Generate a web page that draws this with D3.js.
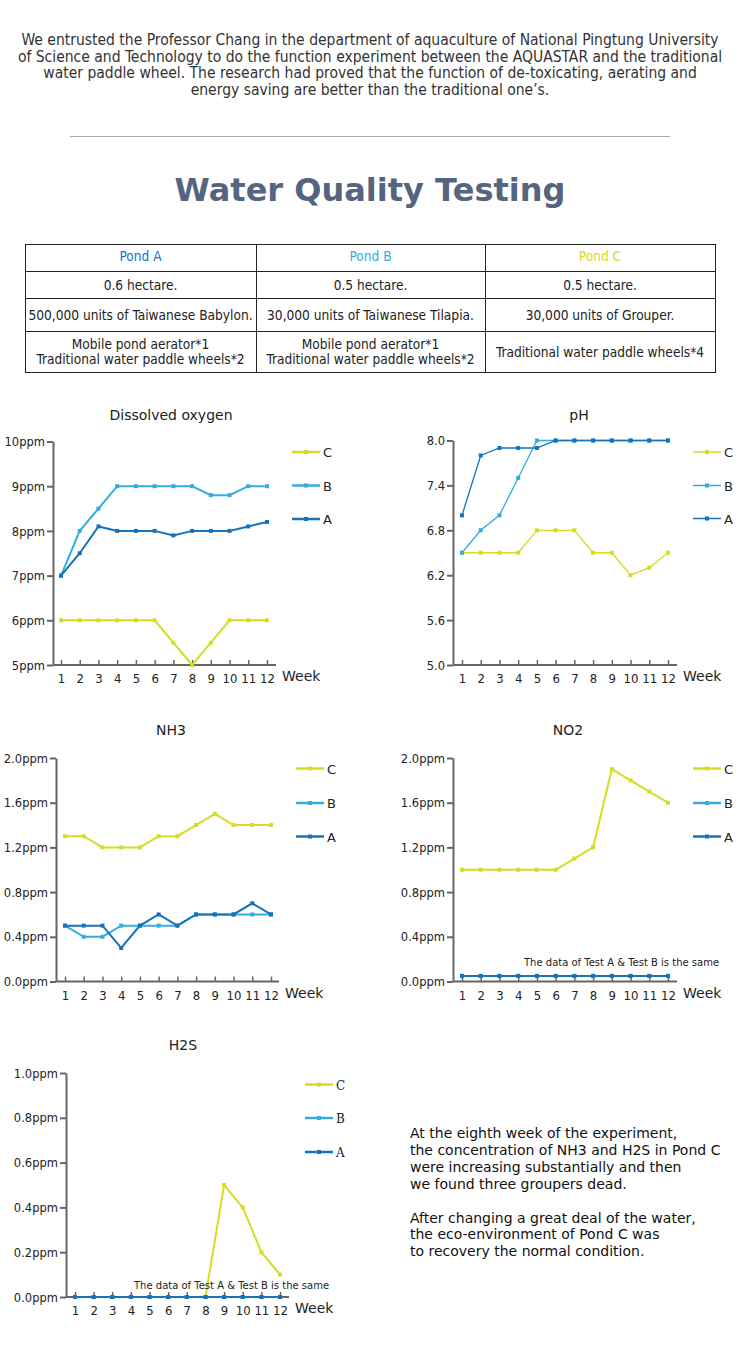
<!DOCTYPE html>
<html>
<head>
<meta charset="utf-8">
<script src="https://cdn.jsdelivr.net/npm/d3@7"></script>
<style>
  body { margin: 0; background: #fff; }
  svg text { font-family: Verdana, "DejaVu Sans", sans-serif; fill: #222; }
  .cond { font-family: Tahoma, "DejaVu Sans Condensed", "DejaVu Sans", sans-serif; font-stretch: condensed; }
</style>
</head>
<body>
<svg id="page" width="741" height="1352"></svg>
<script>
// ---- data ----
const weeks = [1, 2, 3, 4, 5, 6, 7, 8, 9, 10, 11, 12];
const seriesNames = ['C', 'B', 'A'];

const doC = [6, 6, 6, 6, 6, 6, 5.5, 5, 5.5, 6, 6, 6];
const doB = [7, 8, 8.5, 9, 9, 9, 9, 9, 8.8, 8.8, 9, 9];
const doA = [7, 7.5, 8.1, 8, 8, 8, 7.9, 8, 8, 8, 8.1, 8.2];
const doTicks = [5, 6, 7, 8, 9, 10];

const phC = [6.5, 6.5, 6.5, 6.5, 6.8, 6.8, 6.8, 6.5, 6.5, 6.2, 6.3, 6.5];
const phB = [6.5, 6.8, 7.0, 7.5, 8.0, 8.0, 8.0, 8.0, 8.0, 8.0, 8.0, 8.0];
const phA = [7.0, 7.8, 7.9, 7.9, 7.9, 8.0, 8.0, 8.0, 8.0, 8.0, 8.0, 8.0];
const phTicks = [5.0, 5.6, 6.2, 6.8, 7.4, 8.0];

const nh3C = [1.3, 1.3, 1.2, 1.2, 1.2, 1.3, 1.3, 1.4, 1.5, 1.4, 1.4, 1.4];
const nh3B = [0.5, 0.4, 0.4, 0.5, 0.5, 0.5, 0.5, 0.6, 0.6, 0.6, 0.6, 0.6];
const nh3A = [0.5, 0.5, 0.5, 0.3, 0.5, 0.6, 0.5, 0.6, 0.6, 0.6, 0.7, 0.6];
const nh3Ticks = [0, 0.4, 0.8, 1.2, 1.6, 2.0];

const no2C = [1.0, 1.0, 1.0, 1.0, 1.0, 1.0, 1.1, 1.2, 1.9, 1.8, 1.7, 1.6];
const no2B = [0.05, 0.05, 0.05, 0.05, 0.05, 0.05, 0.05, 0.05, 0.05, 0.05, 0.05, 0.05];
const no2A = [0.05, 0.05, 0.05, 0.05, 0.05, 0.05, 0.05, 0.05, 0.05, 0.05, 0.05, 0.05];
const no2Ticks = [0, 0.4, 0.8, 1.2, 1.6, 2.0];

const h2sC = [0, 0, 0, 0, 0, 0, 0, 0, 0.5, 0.4, 0.2, 0.1];
const h2sB = [0, 0, 0, 0, 0, 0, 0, 0, 0, 0, 0, 0];
const h2sA = [0, 0, 0, 0, 0, 0, 0, 0, 0, 0, 0, 0];
const h2sTicks = [0, 0.2, 0.4, 0.6, 0.8, 1.0];

const introLines = [
  'We entrusted the Professor Chang in the department of aquaculture of National Pingtung University',
  'of Science and Technology to do the function experiment between the AQUASTAR and the traditional',
  'water paddle wheel. The research had proved that the function of de-toxicating, aerating and',
  'energy saving are better than the traditional one\u2019s.'
];
const tableHeader = ['Pond A', 'Pond B', 'Pond C'];
const tableRows = [
  [['0.6 hectare.'], ['0.5 hectare.'], ['0.5 hectare.']],
  [['500,000 units of Taiwanese Babylon.'], ['30,000 units of Taiwanese Tilapia.'], ['30,000 units of Grouper.']],
  [['Mobile pond aerator*1', 'Traditional water paddle wheels*2'], ['Mobile pond aerator*1', 'Traditional water paddle wheels*2'], ['Traditional water paddle wheels*4']]
];
const noteLines = [
  'At the eighth week of the experiment,',
  'the concentration of NH3 and H2S in Pond C',
  'were increasing substantially and then',
  'we found three groupers dead.',
  '',
  'After changing a great deal of the water,',
  'the eco-environment of Pond C was',
  'to recovery the normal condition.'
];
const sameNote = 'The data of Test A & Test B is the same';

const colors = { A: '#1672bb', B: '#34ace2', C: '#d5dc22' };
const headerColors = ['#1672bb', '#34ace2', '#d5dc22'];

const svg = d3.select('#page');

// ---- intro text ----
svg.append('g').selectAll('text').data(introLines).enter().append('text')
  .attr('class', 'cond')
  .attr('x', 370).attr('y', (d, i) => 45 + i * 16.7)
  .attr('text-anchor', 'middle')
  .style('font-size', '15.5px').style('fill', '#333')
  .text(d => d);

svg.append('line').attr('x1', 70).attr('x2', 670).attr('y1', 136.5).attr('y2', 136.5)
  .attr('stroke', '#aaa').attr('stroke-width', 1);

svg.append('text').attr('x', 370).attr('y', 201).attr('text-anchor', 'middle')
  .style('font-size', '32px').style('font-weight', 'bold').style('fill', '#56657f')
  .text('Water Quality Testing');

// ---- table ----
const colX = [25, 256, 485, 715];
const rowY = [244, 271, 298, 331, 372];
const table = svg.append('g');
table.append('rect').attr('x', 25.5).attr('y', 244.5).attr('width', 690).attr('height', 128)
  .attr('fill', 'none').attr('stroke', '#222');
colX.slice(1, 3).forEach(x => table.append('line').attr('x1', x + 0.5).attr('x2', x + 0.5)
  .attr('y1', 244).attr('y2', 372).attr('stroke', '#222'));
rowY.slice(1, 4).forEach(y => table.append('line').attr('y1', y + 0.5).attr('y2', y + 0.5)
  .attr('x1', 25).attr('x2', 715).attr('stroke', '#222'));
tableHeader.forEach((h, i) => {
  table.append('text').attr('class', 'cond').attr('x', (colX[i] + colX[i + 1]) / 2).attr('y', 261)
    .attr('text-anchor', 'middle').style('font-size', '13.6px').style('fill', headerColors[i]).text(h);
});
tableRows.forEach((row, r) => {
  const mid = (rowY[r + 1] + rowY[r + 2]) / 2;
  row.forEach((cell, c) => {
    cell.forEach((line, k) => {
      table.append('text').attr('class', 'cond').attr('x', (colX[c] + colX[c + 1]) / 2)
        .attr('y', mid + 5 + (k - (cell.length - 1) / 2) * 15)
        .attr('text-anchor', 'middle').style('font-size', '13.6px').style('fill', '#222').text(line);
    });
  });
});

// ---- charts ----
const charts = [
  { title: 'Dissolved oxygen', tx: 171, ty: 420, data: { C: doC, B: doB, A: doA }, ticks: doTicks, fmt: d => d + 'ppm',
    ax: 53, w1: 61, w12: 267, axEnd: 276, yTop: 441.5, yBot: 665, lw: 2, lgX: 292, lgY: [452, 485.5, 519] },
  { title: 'pH', tx: 579, ty: 420, data: { C: phC, B: phB, A: phA }, ticks: phTicks, fmt: d3.format('.1f'),
    ax: 453, w1: 462, w12: 668, axEnd: 677, yTop: 440.5, yBot: 665, lw: 1.3, lgX: 693, lgY: [452, 485.5, 518.5] },
  { title: 'NH3', tx: 171, ty: 735, data: { C: nh3C, B: nh3B, A: nh3A }, ticks: nh3Ticks, fmt: d => d3.format('.1f')(d) + 'ppm',
    ax: 56, w1: 65, w12: 271, axEnd: 279, yTop: 758, yBot: 981.5, lw: 2, lgX: 296, lgY: [768.5, 803, 836.5] },
  { title: 'NO2', tx: 568, ty: 735, data: { C: no2C, B: no2B, A: no2A }, ticks: no2Ticks, fmt: d => d3.format('.1f')(d) + 'ppm',
    ax: 453, w1: 462, w12: 668, axEnd: 677, yTop: 758, yBot: 981.5, lw: 2, lgX: 693, lgY: [768.5, 803, 836.5],
    note: { x: 524, y: 966 } },
  { title: 'H2S', tx: 183, ty: 1050, data: { C: h2sC, B: h2sB, A: h2sA }, ticks: h2sTicks, fmt: d => d3.format('.1f')(d) + 'ppm',
    ax: 66, w1: 75, w12: 280, axEnd: 289, yTop: 1073, yBot: 1297, lw: 2, lgX: 305, lgY: [1084.5, 1118, 1152],
    note: { x: 134, y: 1289 }, serifLegend: true }
];

const condFont = 'Tahoma, "DejaVu Sans Condensed", "DejaVu Sans", sans-serif';

charts.forEach(ch => {
  const g = svg.append('g');
  const x = d3.scaleLinear().domain([1, 12]).range([ch.w1, ch.w12]);
  const y = d3.scaleLinear().domain(d3.extent(ch.ticks)).range([ch.yBot, ch.yTop]);

  g.append('text').attr('x', ch.tx).attr('y', ch.ty).attr('text-anchor', 'middle')
    .style('font-size', '14px').text(ch.title);

  // y axis
  const yAxis = g.append('g').attr('transform', `translate(${ch.ax},0)`)
    .call(d3.axisLeft(y).tickValues(ch.ticks).tickFormat(ch.fmt).tickSize(6).tickSizeOuter(0));
  yAxis.select('.domain').attr('stroke', '#666').attr('stroke-width', 2);
  yAxis.selectAll('.tick line').attr('stroke', '#666').attr('stroke-width', 2);
  yAxis.selectAll('.tick text').attr('x', -8).style('font-size', '12.8px')
    .style('font-family', condFont).style('font-stretch', 'condensed').attr('fill', '#222');

  // x axis (ticks pointing inward)
  const xAxis = g.append('g').attr('transform', `translate(0,${ch.yBot})`)
    .call(d3.axisBottom(x).tickValues(weeks).tickFormat(d3.format('d')).tickSize(0));
  xAxis.select('.domain').remove();
  g.append('line').attr('x1', ch.ax).attr('x2', ch.axEnd).attr('y1', ch.yBot).attr('y2', ch.yBot)
    .attr('stroke', '#666').attr('stroke-width', 2);
  xAxis.selectAll('.tick').append('line').attr('y1', 0).attr('y2', -5).attr('stroke', '#666').attr('stroke-width', 1.5);
  xAxis.selectAll('.tick text').attr('y', 9).style('font-size', '13px')
    .style('font-family', condFont).style('font-stretch', 'condensed').attr('fill', '#222');
  g.append('text').attr('x', ch.axEnd + 6).attr('y', ch.yBot + 16).style('font-size', '14px').text('Week');

  // series lines
  seriesNames.forEach(s => {
    const vals = ch.data[s];
    const pts = weeks.map((w, i) => [w, vals[i]]);
    g.append('path').datum(pts)
      .attr('d', d3.line().x(d => x(d[0])).y(d => y(d[1])))
      .attr('fill', 'none').attr('stroke', colors[s]).attr('stroke-width', ch.lw).attr('stroke-linejoin', 'miter');
    g.selectAll(null).data(pts).enter().append('rect')
      .attr('x', d => x(d[0]) - 2).attr('y', d => y(d[1]) - 2).attr('width', 4).attr('height', 4)
      .attr('fill', colors[s]);
  });

  // legend
  seriesNames.forEach((s, i) => {
    const ly = ch.lgY[i];
    g.append('line').attr('x1', ch.lgX).attr('x2', ch.lgX + 28).attr('y1', ly).attr('y2', ly)
      .attr('stroke', colors[s]).attr('stroke-width', ch.lw === 2 ? 2.5 : 1.5);
    g.append('rect').attr('x', ch.lgX + 12).attr('y', ly - 2).attr('width', 4).attr('height', 4).attr('fill', colors[s]);
    g.append('text').attr('x', ch.lgX + 31).attr('y', ly + 5)
      .style('font-size', ch.serifLegend ? '12px' : '13px')
      .style('font-family', ch.serifLegend ? '"DejaVu Serif", serif' : null)
      .text(s);
  });

  if (ch.note) {
    g.append('text').attr('x', ch.note.x).attr('y', ch.note.y)
      .style('font-size', '10px').style('font-family', ch.serifLegend ? '"DejaVu Sans", sans-serif' : null)
      .text(sameNote);
  }
});

// ---- side note ----
svg.append('g').selectAll('text').data(noteLines).enter().append('text')
  .attr('x', 410).attr('y', (d, i) => 1138 + i * 16.9)
  .style('font-size', '14px').style('fill', '#111')
  .text(d => d);
</script>
</body>
</html>
